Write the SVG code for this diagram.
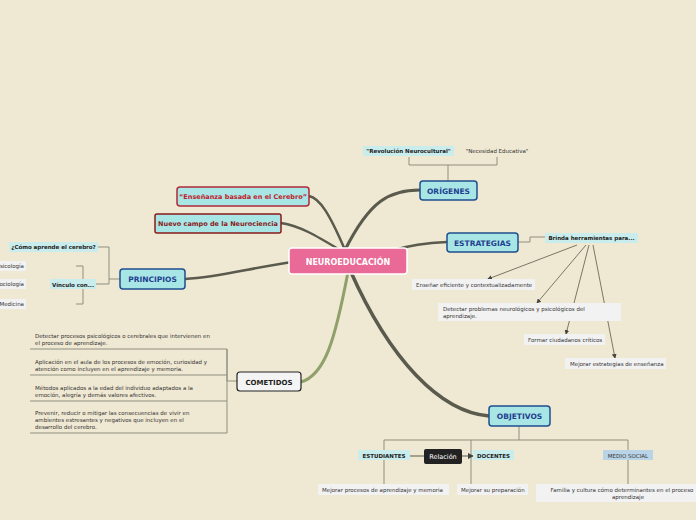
<svg xmlns="http://www.w3.org/2000/svg" width="696" height="520" viewBox="0 0 696 520">
<defs>
<style>
text{font-family:"DejaVu Sans",Verdana,sans-serif;}
.main{fill:#a8e6e6;stroke:#1f4f8f;stroke-width:1.5}
.mt{font-size:7.5px;font-weight:bold;fill:#1f3f8f;text-anchor:middle}
.sub{fill:#c9ecec}
.st{font-size:5.5px;font-weight:bold;fill:#222;text-anchor:middle}
.leaf{fill:#f2f2f2}
.lt{font-size:5.5px;fill:#333}
.tl{fill:none;stroke:#8f8f80;stroke-width:1}
.br{fill:none;stroke:#5a5a4d}
</style>
<marker id="ar" markerWidth="6" markerHeight="6" refX="5" refY="3" orient="auto"><path d="M0,0L6,3L0,6z" fill="#444"/></marker>
</defs>
<rect width="696" height="520" fill="#efe8d2"/>
<g id="connectors">
<path class="br" stroke-width="3" d="M345,250 C370,200 390,190 420,190"/>
<path class="br" stroke-width="2.5" d="M395,250 C410,245 425,243 447,242"/>
<path class="br" stroke-width="3.5" d="M350,270 C390,360 440,412 489,416"/>
<path fill="none" stroke="#8fa06a" stroke-width="3" d="M348,272 C335,340 325,375 301,382"/>
<path class="br" stroke-width="2.5" d="M292,262 C250,268 220,277 185,279"/>
<path class="br" stroke-width="2.5" d="M345,250 C330,215 320,198 309,196"/>
<path class="br" stroke-width="2.5" d="M340,250 C315,235 300,226 281,223"/>
<path class="tl" d="M448,181V165H409V157M448,165H497V157"/>
<path class="tl" d="M518,242H530V237H545"/>
<path class="br" stroke-width="0.8" marker-end="url(#ar)" d="M577,245L488,279"/>
<path class="br" stroke-width="0.8" marker-end="url(#ar)" d="M586,245L537,303"/>
<path class="br" stroke-width="0.8" marker-end="url(#ar)" d="M589,245L566,334"/>
<path class="br" stroke-width="0.8" marker-end="url(#ar)" d="M593,245L615,358"/>
<path class="tl" d="M120,279H109V247H98M109,279V284H95M95,284H83M83,266H76M83,284H76M83,304H76M83,266V304"/>
<path class="tl" d="M237,381H227V349H30M227,375H30M227,401H30M227,433H30M227,349V433"/>
<path class="tl" d="M519,426V440H384M519,440H628V450M384,440V484M471,440V484M628,460V484"/>
<path class="br" stroke-width="1" d="M410,456H424"/>
<path class="br" stroke-width="1" marker-end="url(#ar)" d="M462,456H473"/>
</g>
<g id="center"><rect x="289" y="248" width="118" height="26" rx="3" fill="#e96a96" stroke="#fff" stroke-width="1.5"/><text x="348" y="264.5" font-size="8" font-weight="bold" fill="#fff" text-anchor="middle">NEUROEDUCACIÓN</text></g>
<g id="origenes"><rect class="main" x="420" y="181" width="57" height="19" rx="3"/><text class="mt" x="448.5" y="193.5">ORÍGENES</text></g>
<g id="revolucion"><rect class="sub" x="363" y="146" width="91" height="10"/><text class="st" x="408.5" y="153">"Revolución Neurocultural"</text></g>
<g id="necesidad"><text class="lt" x="497" y="153" text-anchor="middle">"Necesidad Educativa"</text></g>
<g id="estrategias"><rect class="main" x="447" y="233" width="71" height="19" rx="3"/><text class="mt" x="482.5" y="245.5">ESTRATEGIAS</text></g>
<g id="brinda"><rect class="sub" x="545" y="233" width="93" height="10"/><text class="st" x="591.5" y="240">Brinda herramientas para...</text></g>
<g id="e1"><rect class="leaf" x="412" y="279" width="123" height="11"/><text class="lt" x="416" y="287">Enseñar eficiente y contextualizadamente</text></g>
<g id="e2"><rect class="leaf" x="438" y="303" width="183" height="18"/><text class="lt" x="443" y="311">Detectar problemas neurológicos y psicológicos del</text><text class="lt" x="443" y="318">aprendizaje.</text></g>
<g id="e3"><rect class="leaf" x="524" y="334" width="81" height="11"/><text class="lt" x="528" y="342">Formar ciudadanos críticos</text></g>
<g id="e4"><rect class="leaf" x="565" y="358" width="101" height="11"/><text class="lt" x="570" y="366">Mejorar estrategias de enseñanza</text></g>
<g id="objetivos"><rect class="main" x="489" y="406" width="61" height="20" rx="3"/><text class="mt" x="519.5" y="419">OBJETIVOS</text></g>
<g id="estudiantes"><rect class="sub" x="358" y="450" width="52" height="10"/><text class="st" x="384" y="457.5">ESTUDIANTES</text></g>
<g id="relacion"><rect x="424" y="449" width="38" height="15" rx="2" fill="#222"/><text x="443" y="459" font-size="6.5" fill="#fff" text-anchor="middle">Relación</text></g>
<g id="docentes"><rect class="sub" x="473" y="450" width="41" height="10"/><text class="st" x="493.5" y="457.5">DOCENTES</text></g>
<g id="medio"><rect x="603" y="450" width="50" height="10" fill="#b8d4e6"/><text x="628" y="457.5" font-size="5.5" fill="#333" text-anchor="middle">MEDIO SOCIAL</text></g>
<g id="o1"><rect class="leaf" x="318" y="484" width="131" height="11"/><text class="lt" x="322" y="492">Mejorar procesos de aprendizaje  y memoria</text></g>
<g id="o2"><rect class="leaf" x="457" y="484" width="71" height="11"/><text class="lt" x="461" y="492">Mejorar su preparación</text></g>
<g id="o3"><rect class="leaf" x="536" y="484" width="160" height="18"/><text class="lt" x="622" y="492" text-anchor="middle">Familia y cultura cómo determinantes en el proceso</text><text class="lt" x="628" y="498.5" text-anchor="middle">aprendizaje</text></g>
<g id="cometidos"><rect x="237" y="372" width="64" height="19" rx="3" fill="#f4f4f4" stroke="#222" stroke-width="1.2"/><text x="269" y="384.5" font-size="7" font-weight="bold" fill="#222" text-anchor="middle">COMETIDOS</text></g>
<g id="c1"><text class="lt" x="35" y="338">Detectar procesos psicológicos o cerebrales que intervienen en</text><text class="lt" x="35" y="345">el proceso de aprendizaje.</text></g>
<g id="c2"><text class="lt" x="35" y="364">Aplicación en el aula de los procesos de emoción, curiosidad y</text><text class="lt" x="35" y="371">atención como incluyen en el aprendizaje y memoria.</text></g>
<g id="c3"><text class="lt" x="35" y="390">Métodos aplicados a la edad del individuo adaptados a la</text><text class="lt" x="35" y="397">emoción, alegría y demás valores afectivos.</text></g>
<g id="c4"><text class="lt" x="35" y="415">Prevenir, reducir o mitigar las consecuencias de vivir en</text><text class="lt" x="35" y="422">ambientes estresantes y negativos que incluyen en el</text><text class="lt" x="35" y="429">desarrollo del cerebro.</text></g>
<g id="principios"><rect class="main" x="120" y="269" width="65" height="20" rx="3"/><text class="mt" x="152.5" y="282">PRINCIPIOS</text></g>
<g id="como"><rect class="sub" x="9" y="242" width="89" height="10"/><text class="st" x="53.5" y="249">¿Cómo aprende el cerebro?</text></g>
<g id="vinculo"><rect class="sub" x="50" y="279" width="46" height="10"/><text class="st" x="73" y="286.5">Vínculo con...</text></g>
<g id="p1"><rect class="leaf" x="-5" y="261" width="31" height="10"/><text class="lt" x="24" y="268" text-anchor="end">Psicología</text></g>
<g id="p2"><rect class="leaf" x="-5" y="279" width="31" height="10"/><text class="lt" x="24" y="286" text-anchor="end">Sociología</text></g>
<g id="p3"><rect class="leaf" x="-5" y="299" width="31" height="10"/><text class="lt" x="24" y="306" text-anchor="end">Medicina</text></g>
<g id="ensenanza"><rect x="177" y="187" width="132" height="19" rx="3" fill="#a8e6e6" stroke="#b02a3a" stroke-width="1.5"/><text x="243" y="199" font-size="6.5" font-weight="bold" fill="#c0202a" text-anchor="middle">“Enseñanza basada en el Cerebro”</text></g>
<g id="nuevo"><rect x="155" y="214" width="126" height="19" rx="2" fill="#a8e6e6" stroke="#8a1a1a" stroke-width="1.5"/><text x="218" y="226" font-size="6.5" font-weight="bold" fill="#8a1a1a" text-anchor="middle">Nuevo campo de la Neurociencia</text></g>
</svg>
